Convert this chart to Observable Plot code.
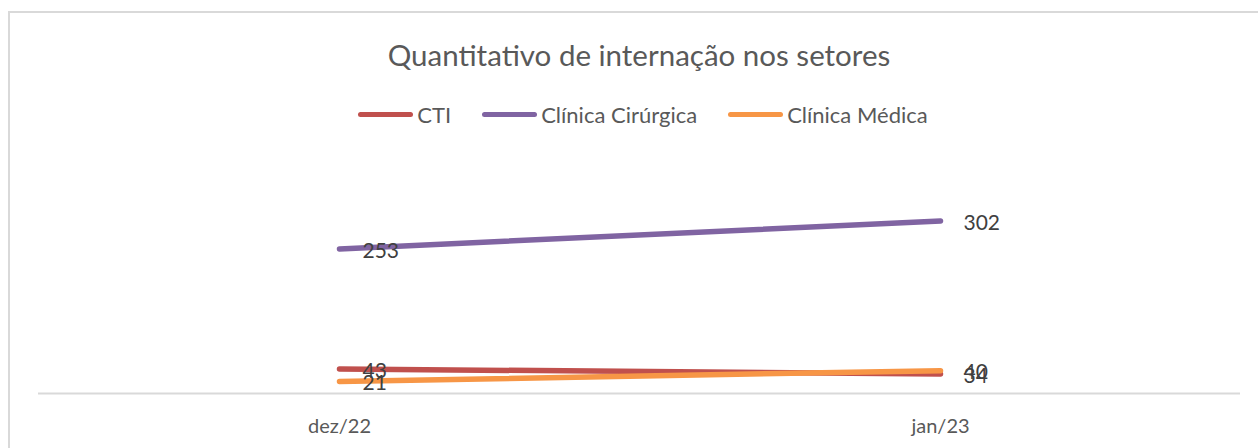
<!DOCTYPE html>
<html>
<head>
<meta charset="utf-8">
<script src="https://cdn.jsdelivr.net/npm/d3@7"></script>
<script src="https://cdn.jsdelivr.net/npm/@observablehq/plot@0.6"></script>
<style>
  html, body { margin: 0; padding: 0; background: #fff; }
  #wrap { position: relative; width: 1258px; height: 448px; overflow: hidden; font-family: Lato, "Open Sans", sans-serif; color: #595959; }
  #frame { position: absolute; left: 8px; top: 11px; width: 1300px; height: 500px; border: 2px solid #d9d9d9; box-sizing: border-box; }
  #title { position: absolute; left: 0; width: 1278px; top: 35px; text-align: center; font-size: 29.5px; line-height: 40px; color: #595959; }
  #legend { position: absolute; left: 0; width: 1286px; top: 100px; height: 28px; display: flex; justify-content: center; align-items: center; gap: 31px; font-size: 22px; color: #595959; }
  .item { display: flex; align-items: center; }
  .sw { width: 55px; height: 5px; border-radius: 3px; margin-right: 4px; }
  #chart { position: absolute; left: 0; top: 140px; }
</style>
</head>
<body>
<div id="wrap">
  <div id="frame"></div>
  <div id="title">Quantitativo de internação nos setores</div>
  <div id="legend"></div>
  <div id="chart"></div>
</div>
<script>
const categories = ["dez/22", "jan/23"];
const seriesNames = ["CTI", "Clínica Cirúrgica", "Clínica Médica"];
const ctiValues = [43, 34];
const cirurgicaValues = [253, 302];
const medicaValues = [21, 40];
const seriesColors = ["#C0504D", "#8064A2", "#F79646"];

const seriesValues = [ctiValues, cirurgicaValues, medicaValues];
const rows = [];
seriesNames.forEach((s, i) => {
  categories.forEach((c, j) => rows.push({series: s, cat: c, value: seriesValues[i][j]}));
});

// legend
const legend = document.getElementById("legend");
seriesNames.forEach((s, i) => {
  const it = document.createElement("div");
  it.className = "item";
  const sw = document.createElement("div");
  sw.className = "sw";
  sw.style.background = seriesColors[i];
  const t = document.createElement("span");
  t.textContent = s;
  it.appendChild(sw); it.appendChild(t);
  legend.appendChild(it);
});

const chart = Plot.plot({
  width: 1258,
  height: 308,
  marginLeft: 38,
  marginRight: 18,
  marginTop: 53,
  marginBottom: 55,
  style: {fontFamily: "Lato, 'Open Sans', sans-serif", fontSize: "20px", background: "transparent", color: "#595959"},
  x: {type: "point", domain: categories, padding: 0.5, label: null},
  y: {domain: [0, 350], axis: null},
  color: {domain: seriesNames, range: seriesColors},
  marks: [
    Plot.ruleY([0], {stroke: "#d9d9d9", strokeWidth: 2}),
    Plot.axisX({tickSize: 0, tickPadding: 25, fill: "#595959", fontSize: 20, label: null}),
    Plot.line(rows, {x: "cat", y: "value", z: "series", stroke: "series", strokeWidth: 5.5, strokeLinecap: "round"}),
    Plot.text(rows, {x: "cat", y: "value", text: d => String(d.value), dx: 23, dy: 2, textAnchor: "start", fill: "#404040", fontSize: 21})
  ]
});
document.getElementById("chart").appendChild(chart);
</script>
</body>
</html>
